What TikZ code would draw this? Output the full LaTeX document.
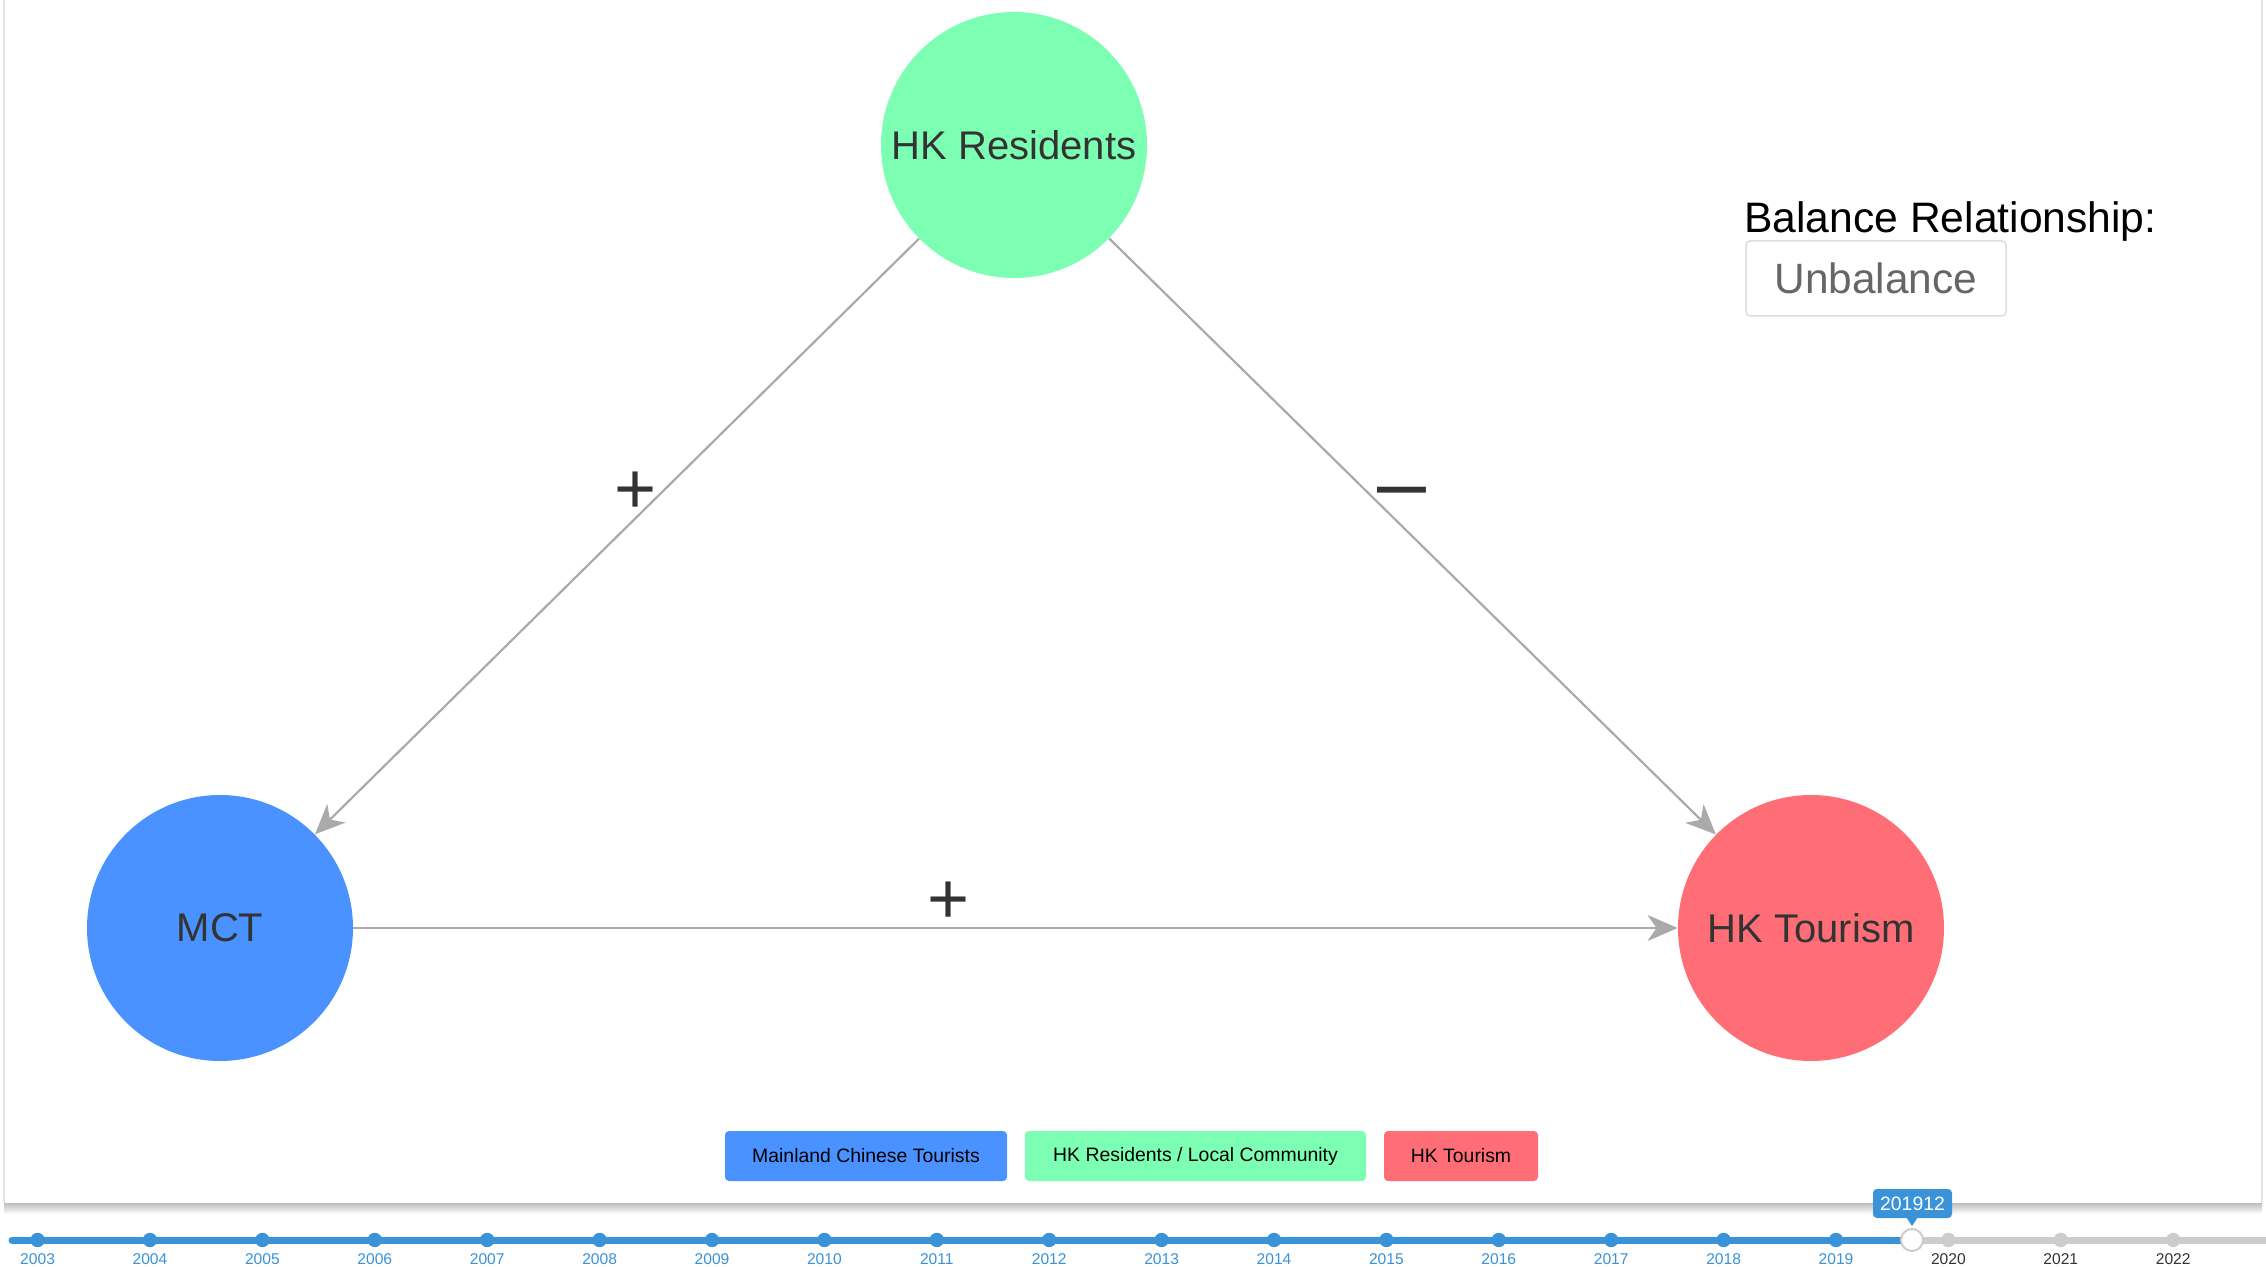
\documentclass[tikz,border=0pt]{standalone}
\usepackage{fontspec}
\setmainfont{Liberation Sans}
\usetikzlibrary{arrows.meta}
\definecolor{mctblue}{HTML}{4992FF}
\definecolor{hkgreen}{HTML}{7CFFB2}
\definecolor{hkred}{HTML}{FF6E76}
\definecolor{edgegray}{HTML}{AAAAAA}
\definecolor{txt}{HTML}{333333}
\definecolor{tlblue}{HTML}{3A93D9}
\definecolor{tlgray}{HTML}{CCCCCC}
\definecolor{boxgray}{HTML}{DDDDDD}
\definecolor{ubgray}{HTML}{666666}
\definecolor{shadowgray}{HTML}{BDBDBD}
\definecolor{bordergray}{HTML}{E2E2E2}
\tikzset{
  ent/.style={circle, minimum size=133pt, inner sep=0pt, text=txt,
    font=\fontsize{20pt}{24pt}\selectfont},
  rel/.style={draw=edgegray, line width=1.1pt,
    -{Stealth[length=15pt,width=13pt,inset=4.5pt]}},
  sign/.style={inner sep=0pt, text=txt, font=\fontsize{36pt}{36pt}\selectfont},
  legendbox/.style={rounded corners=2pt, minimum height=25pt, inner sep=0pt,
    text=black, font=\fontsize{9.7pt}{11pt}\selectfont},
  year/.style={anchor=north, inner sep=0pt, font=\fontsize{7.8pt}{9pt}\selectfont},
}
\begin{document}
\begin{tikzpicture}[x=0.5pt,y=-0.5pt]
\useasboundingbox (0,0) rectangle (2266,1267);
\fill[white] (0,0) rectangle (2266,1267);
% panel borders and shadow
\draw[bordergray, line width=0.75pt] (4,0) -- (4,1203);
\draw[bordergray, line width=0.75pt] (2262,0) -- (2262,1203);
\shade[top color=shadowgray, bottom color=white] (4,1203) rectangle (2262,1214);

% entities
\node[ent, fill=hkgreen] (hr) at (1014,145) {HK Residents};
\node[ent, fill=mctblue] (mct) at (220,928) {MCT};
\node[ent, fill=hkred] (hkt) at (1811,928) {HK Tourism};

% relations
\draw[rel] (hr) -- (mct);
\draw[rel] (hr) -- (hkt);
\draw[rel] (mct) -- (hkt);

% signs
\node[sign] (s1) at (636,493) {+};
\node[sign, font=\fontsize{44pt}{44pt}\selectfont] (s2) at (1402,500) {–};
\node[sign] (s3) at (949,903) {+};

% balance
\node[anchor=base west, inner sep=0pt, text=black,
  font=\fontsize{21.3pt}{25pt}\selectfont] (bal) at (1744,233) {Balance Relationship:};
\node[draw=boxgray, line width=0.75pt, rounded corners=2pt, minimum width=130pt,
  minimum height=37.5pt, inner sep=0pt, text=ubgray,
  font=\fontsize{21.2pt}{25pt}\selectfont] (ub) at (1876,278.5) {Unbalance};

% legend
\node[legendbox, fill=mctblue, minimum width=141pt] (l1) at (866,1156) {Mainland Chinese Tourists};
\node[legendbox, fill=hkgreen, minimum width=170.5pt] (l2) at (1195.5,1156) {HK Residents / Local Community};
\node[legendbox, fill=hkred, minimum width=77pt] (l3) at (1461,1156) {HK Tourism};

% timeline
\draw[tlgray, line width=3.5pt] (1912,1240) -- (2266,1240);
\draw[tlblue, line width=3.5pt, line cap=round] (12,1240) -- (1912,1240);
\foreach \i [evaluate=\i as \xx using 37.6+112.4*\i, evaluate=\i as \yr using int(2003+\i)] in {0,...,16}{
  \fill[tlblue] (\xx,1240) circle (3.6pt);
  \node[year, text=tlblue] at (\xx,1253) {\yr};
}
\foreach \i [evaluate=\i as \xx using 37.6+112.4*\i, evaluate=\i as \yr using int(2003+\i)] in {17,18,19}{
  \fill[tlgray] (\xx,1240) circle (3.6pt);
  \node[year, text=txt] at (\xx,1253) {\yr};
}
\draw[fill=white, draw=tlgray, line width=1pt] (1912,1240) circle (5.5pt);

% tooltip
\node[fill=tlblue, text=white, rounded corners=2pt, minimum width=39.5pt,
  minimum height=14.5pt, inner sep=0pt,
  font=\fontsize{9.7pt}{11pt}\selectfont] (tip) at (1912.5,1203.5) {201912};
\fill[tlblue] (1906,1217) -- (1918,1217) -- (1912,1226) -- cycle;
\end{tikzpicture}
\end{document}
